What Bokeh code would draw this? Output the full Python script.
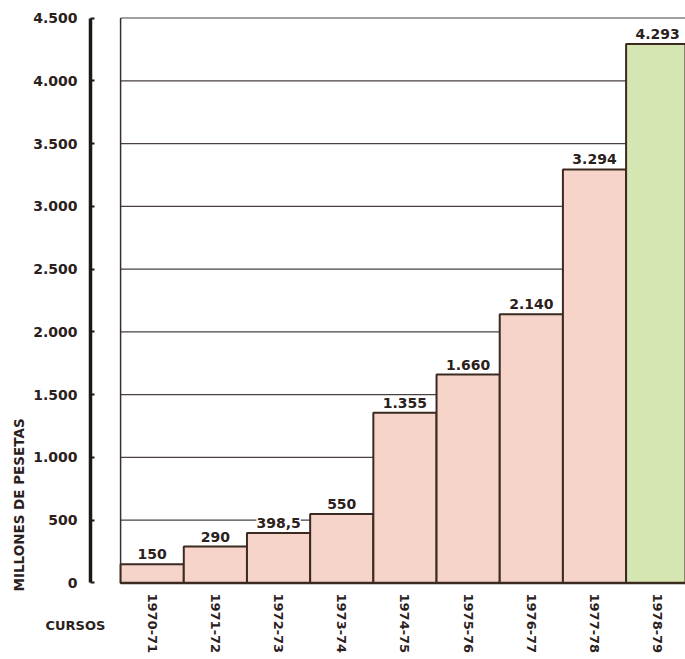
from bokeh.plotting import figure
from bokeh.models import Range1d, FixedTicker, LabelSet, Label, ColumnDataSource, Title
from bokeh.core.properties import value
from bokeh.embed import file_html
from bokeh.resources import INLINE

# ---- data ----
cursos = ["1970-71", "1971-72", "1972-73", "1973-74", "1974-75",
          "1975-76", "1976-77", "1977-78", "1978-79"]
millones = [150, 290, 398.5, 550, 1355, 1660, 2140, 3294, 4293]
etiquetas = ["150", "290", "398,5", "550", "1.355", "1.660", "2.140", "3.294", "4.293"]
y_ticks = [0, 500, 1000, 1500, 2000, 2500, 3000, 3500, 4000, 4500]
y_tick_labels = ["0", "500", "1.000", "1.500", "2.000", "2.500", "3.000", "3.500", "4.000", "4.500"]

INK = "#2b211c"
PINK = "#f6d4c9"
GREEN = "#d6e6b2"
FONT = "DejaVu Sans"

n = len(cursos)
centers = [i + 0.5 for i in range(n)]
colors = [PINK] * (n - 1) + [GREEN]

p = figure(frame_width=595, frame_height=570, output_backend="svg", toolbar_location=None,
           x_range=Range1d(-0.4762, 8.94), y_range=Range1d(-20, 4520),
           min_border_left=90, min_border_right=0, min_border_top=15, min_border_bottom=74)
p.outline_line_color = None
p.background_fill_color = "white"
p.border_fill_color = "white"
p.xgrid.visible = False
p.ygrid.visible = False

# grid lines (from the plot's left edge at x=0)
p.segment(x0=[0] * len(y_ticks), x1=[n + 0.5] * len(y_ticks), y0=y_ticks, y1=y_ticks,
          line_color="#4a4040", line_width=1.2)
# left border of plot area
p.segment(x0=[0], x1=[0], y0=[0], y1=[y_ticks[-1]], line_color="#3a302a", line_width=1.5)

# bars
src = ColumnDataSource(dict(x=centers, top=millones, color=colors, text=etiquetas))
p.vbar(x="x", top="top", bottom=0, width=1, source=src, fill_color="color",
       line_color="#3a2a20", line_width=2)

# baseline
p.segment(x0=[0], x1=[n + 0.5], y0=[0], y1=[0], line_color="#3a2a20", line_width=2.5)

labels = LabelSet(x="x", y="top", text="text", source=src, y_offset=5,
                  text_align="center", text_baseline="bottom",
                  text_font=value(FONT), text_font_style="bold", text_font_size="14px",
                  text_color=INK, background_fill_color="white")
p.add_layout(labels)

# y axis
p.yaxis.ticker = FixedTicker(ticks=y_ticks)
p.yaxis.major_label_overrides = {t: l for t, l in zip(y_ticks, y_tick_labels)}
p.yaxis.bounds = (0, y_ticks[-1])
p.yaxis.axis_line_width = 3.5
p.yaxis.axis_line_color = "#1e1814"
p.yaxis.major_tick_in = 4
p.yaxis.major_tick_out = 0
p.yaxis.major_tick_line_width = 2
p.yaxis.major_tick_line_color = "#1e1814"
p.yaxis.minor_tick_line_color = None
p.yaxis.major_label_standoff = 13
p.yaxis.major_label_text_font = FONT
p.yaxis.major_label_text_font_style = "bold"
p.yaxis.major_label_text_font_size = "14px"
p.yaxis.major_label_text_color = INK

# x axis
p.xaxis.ticker = FixedTicker(ticks=centers)
p.xaxis.major_label_overrides = {c: l for c, l in zip(centers, cursos)}
p.xaxis.major_label_orientation = "vertical"
p.xaxis.axis_line_color = None
p.xaxis.major_tick_line_color = None
p.xaxis.major_tick_in = 0
p.xaxis.major_tick_out = 0
p.xaxis.minor_tick_line_color = None
p.xaxis.major_label_standoff = 8
p.xaxis.major_label_text_font = FONT
p.xaxis.major_label_text_font_style = "bold"
p.xaxis.major_label_text_font_size = "13px"
p.xaxis.major_label_text_color = INK

# vertical axis title (left side, starting near the bottom)
p.add_layout(Title(text="MILLONES DE PESETAS", align="left", text_font=FONT,
                   text_font_style="bold", text_font_size="13.5px", text_color=INK,
                   standoff=8, offset=-6), "left")

# "CURSOS" label beside the course labels
p.add_layout(Label(x=-45, y=46, x_units="screen", y_units="screen", text="CURSOS",
                   text_font=FONT, text_font_style="bold",
                   text_font_size="13px", text_color=INK, text_baseline="middle",
                   text_align="left"), "below")

open("out.html", "w").write(file_html(p, INLINE))
